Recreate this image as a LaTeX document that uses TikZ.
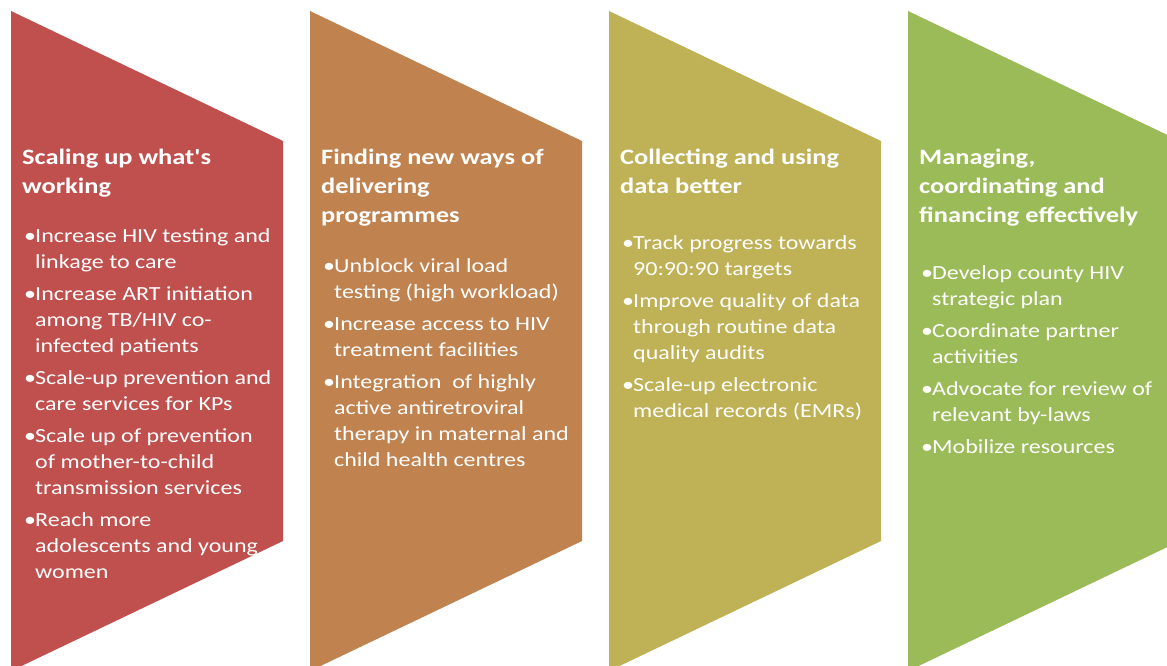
\documentclass[tikz,border=0pt]{standalone}
\usepackage{fontspec}
\setmainfont{Carlito}[FakeStretch=1.2,Ligatures=TeXOff]
\usepackage{tikz}
\usetikzlibrary{positioning}

\definecolor{colA}{HTML}{C0504D}
\definecolor{colB}{HTML}{C0824F}
\definecolor{colC}{HTML}{BFB156}
\definecolor{colD}{HTML}{9BBB59}

% bullet with hanging indent
\newlength{\bulw}\setlength{\bulw}{11pt}
\newcommand{\bl}{\makebox[\bulw][l]{\textbullet}}
\newcommand{\hg}{\hspace*{\bulw}}
\newcommand{\topstr}{\rule{0pt}{20pt}}
% chevron: left edge x, colour
\newcommand{\chev}[2]{\fill[#2] (#1,11) -- ++(272,130) -- ++(0,400) -- ++(-272,130) -- cycle;}

\begin{document}
\begin{tikzpicture}[x=1pt,y=-1pt,
	titre/.style={anchor=north west,inner sep=0,align=left,text=white,font=\fontsize{22}{29}\selectfont\bfseries},
	liste/.style={anchor=north west,inner sep=0,align=left,text=white,font=\fontsize{20}{26}\selectfont}]
	\clip (0,0) rectangle (1167,665);
	% les quatre chevrons
	\chev{11}{colA}
	\chev{310}{colB}
	\chev{609}{colC}
	\chev{908}{colD}
	% titres
	\node (SCALE) at (22,144) [titre] {\topstr Scaling up what's\\working};
	\node (FIND) at (321,144) [titre] {\topstr Finding new ways of\\delivering\\programmes};
	\node (DATA) at (620,144) [titre] {\topstr Collecting and using\\data better};
	\node (MANAGE) at (919,144) [titre] {\topstr Managing,\\coordinating and\\financing effectively};
	% listes
	\node (SCALELIST) at (24,222) [liste] {\topstr\bl Increase HIV testing and\\\hg linkage to care\\[6pt]
		\bl Increase ART initiation\\\hg among TB/HIV co-\\\hg infected patients\\[6pt]
		\bl Scale-up prevention and\\\hg care services for KPs\\[6pt]
		\bl Scale up of prevention\\\hg of mother-to-child\\\hg transmission services\\[6pt]
		\bl Reach more\\\hg adolescents and young\\\hg women};
	\node (FINDLIST) at (323,252) [liste] {\topstr\bl Unblock viral load\\\hg testing (high workload)\\[6pt]
		\bl Increase access to HIV\\\hg treatment facilities\\[6pt]
		\bl Integration\ \ of highly\\\hg active antiretroviral\\\hg therapy in maternal and\\\hg child health centres};
	\node (DATALIST) at (622,229) [liste] {\topstr\bl Track progress towards\\\hg 90:90:90 targets\\[6pt]
		\bl Improve quality of data\\\hg through routine data\\\hg quality audits\\[6pt]
		\bl Scale-up electronic\\\hg medical records (EMRs)};
	\node (MANAGELIST) at (921,259) [liste] {\topstr\bl Develop county HIV\\\hg strategic plan\\[6pt]
		\bl Coordinate partner\\\hg activities\\[6pt]
		\bl Advocate for review of\\\hg relevant by-laws\\[6pt]
		\bl Mobilize resources};
\end{tikzpicture}
\end{document}
